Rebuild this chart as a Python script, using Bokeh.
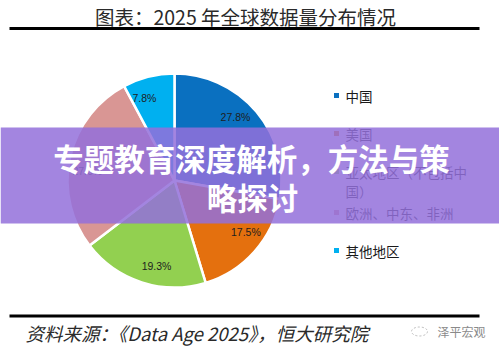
import math
from bokeh.plotting import figure
from bokeh.models import Range1d, ColumnDataSource
from bokeh.core.properties import value
from bokeh.embed import file_html
from bokeh.resources import INLINE

# ---- data ----
regions = ["中国", "美国", "亚太地区（不包括中国）", "欧洲、中东、非洲", "其他地区"]
shares = [27.8, 17.5, 19.3, 27.6, 7.8]
colors = ["#0A70C0", "#E4700E", "#92D050", "#D99694", "#00B0F0"]
title_text = "图表：2025 年全球数据量分布情况"
source_text = "资料来源：《Data Age 2025》，恒大研究院"
watermark_text = "泽平宏观"
banner_lines = ["专题教育深度解析，方法与策", "略探讨"]

W, H = 499, 351


def Y(v):
    return H - v


p = figure(width=W, height=H, x_range=Range1d(0, W), y_range=Range1d(0, H),
           output_backend="svg", toolbar_location=None, min_border=0)
p.xaxis.visible = False
p.yaxis.visible = False
p.xgrid.visible = False
p.ygrid.visible = False
p.outline_line_color = None
p.background_fill_color = "white"
p.border_fill_color = "white"

FONT = value("Noto Sans CJK SC")

# title and rules
p.text(x=[245], y=[Y(16)], text=[title_text], text_font=FONT, text_font_size="19.5px",
       text_color="#2a2a2a", text_align="center", text_baseline="middle")
p.segment(x0=[9], y0=[Y(28)], x1=[479], y1=[Y(28)], line_color="black", line_width=3)
p.segment(x0=[9], y0=[Y(315.5)], x1=[479], y1=[Y(315.5)], line_color="black", line_width=3)

# pie
cx, cy, R = 174, Y(180), 107
total = sum(shares)
starts, ends, mids = [], [], []
acc = 0.0
for s in shares:
    a0 = math.pi / 2 - 2 * math.pi * acc / total
    acc += s
    a1 = math.pi / 2 - 2 * math.pi * acc / total
    starts.append(a0)
    ends.append(a1)
    mids.append((a0 + a1) / 2)

src = ColumnDataSource(dict(start=starts, end=ends, color=colors))
p.wedge(x=cx, y=cy, radius=R, start_angle="start", end_angle="end", direction="clock",
        fill_color="color", line_color="white", line_width=2.5, source=src)

lr = 0.82 * R
rot = math.radians(6)
lx = [cx + lr * math.cos(m + rot) for m in mids]
ly = [cy + lr * math.sin(m + rot) for m in mids]
p.text(x=lx, y=ly, text=[f"{s:.1f}%" for s in shares], text_font=value("Liberation Sans"),
       text_font_size="10.5px", text_color="#1e1e1e", text_align="center", text_baseline="middle")

# legend
legend_y = [95, 133, 171, 212, 250]
mx, tx = 336, 345
p.scatter(x=[mx] * len(regions), y=[Y(v) for v in legend_y], marker="square", size=5,
          fill_color=colors, line_color=None)
lt_x, lt_y, lt_t = [], [], []
for name, yy in zip(regions, legend_y):
    lines = [name[i:i + 9] for i in range(0, len(name), 9)]
    for k, ln in enumerate(lines):
        lt_x.append(tx)
        lt_y.append(Y(yy + 19 * k))
        lt_t.append(ln)
p.text(x=lt_x, y=lt_y, text=lt_t, text_font=FONT, text_font_size="13.5px",
       text_color="#1a1a1a", text_align="left", text_baseline="middle")

# source & watermark
p.text(x=[25], y=[Y(332)], text=[source_text], text_font=FONT, text_font_size="18.5px",
       text_font_style="italic", text_color="#2a2a2a", text_align="left", text_baseline="middle")
p.ellipse(x=[419], y=[Y(331)], width=16, height=9, fill_color=None, line_color="#bbbbbb",
          line_width=1, line_dash="2 2")
p.text(x=[437], y=[Y(331)], text=[watermark_text], text_font=FONT, text_font_size="12px",
       text_color="#8a8a8a", text_align="left", text_baseline="middle")

# banner overlay
p.quad(left=[0], right=[W], bottom=[Y(223)], top=[Y(127)], fill_color="#9370DB",
       fill_alpha=0.85, line_color=None)
p.text(x=[251, 252], y=[Y(157), Y(196)], text=banner_lines, text_font=FONT,
       text_font_size="30.5px", text_font_style="bold", text_color="white",
       text_align="center", text_baseline="middle")

open("out.html", "w").write(file_html(p, INLINE))
